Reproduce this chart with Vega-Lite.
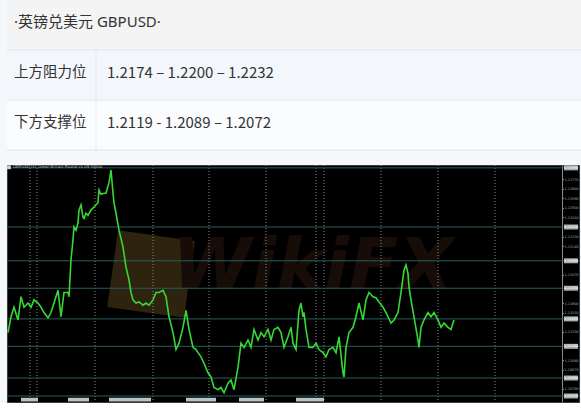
{
  "$schema": "https://vega.github.io/schema/vega-lite/v6.json",
  "background": "#f5f8fa",
  "padding": 0,
  "spacing": 13,
  "config": {"view": {"stroke": null}, "font": "Noto Sans CJK SC"},
  "vconcat": [
    {
      "width": 581,
      "height": 150,
      "data": {"values": [
        {"row": "title", "label": "·英镑兑美元 GBPUSD·", "value": ""},
        {"row": "resist", "label": "上方阻力位", "value": "1.2174 – 1.2200 – 1.2232"},
        {"row": "support", "label": "下方支撑位", "value": "1.2119 - 1.2089 – 1.2072"}
      ]},
      "layer": [
        {
          "mark": {"type": "rect"},
          "encoding": {
            "y": {"field": "row", "type": "nominal", "scale": {"domain": ["title", "resist", "support"], "paddingInner": 0, "paddingOuter": 0}, "axis": null},
            "color": {"field": "row", "type": "nominal", "scale": {"domain": ["title", "resist", "support"], "range": ["#f4f4f4", "#f3f7fc", "#fbfcfe"]}, "legend": null}
          }
        },
        {
          "mark": {"type": "rule", "color": "#e1e3e6", "strokeWidth": 1},
          "encoding": {
            "y": {"field": "row", "type": "nominal", "bandPosition": 1, "axis": null}
          }
        },
        {
          "transform": [{"filter": "datum.row !== 'title'"}],
          "mark": {"type": "tick", "orient": "vertical", "size": 50, "thickness": 1, "color": "#e1e3e6"},
          "encoding": {
            "x": {"datum": "value", "type": "nominal", "bandPosition": 0, "scale": {"domain": ["label", "value"], "range": [0, 178], "paddingInner": 0, "paddingOuter": 0}, "axis": null},
            "y": {"field": "row", "type": "nominal", "axis": null}
          }
        },
        {
          "transform": [{"filter": "datum.row === 'title'"}],
          "mark": {"type": "text", "align": "left", "baseline": "middle", "dx": 7, "dy": -3, "fontSize": 15, "font": "Noto Sans, Noto Sans CJK SC", "color": "#333333"},
          "encoding": {
            "x": {"datum": "label", "type": "nominal", "bandPosition": 0, "axis": null},
            "y": {"field": "row", "type": "nominal", "axis": null},
            "text": {"field": "label"}
          }
        },
        {
          "transform": [{"filter": "datum.row !== 'title'"}],
          "mark": {"type": "text", "align": "left", "baseline": "middle", "dx": 7, "dy": -2, "fontSize": 14.5, "color": "#333333"},
          "encoding": {
            "x": {"datum": "label", "type": "nominal", "bandPosition": 0, "axis": null},
            "y": {"field": "row", "type": "nominal", "axis": null},
            "text": {"field": "label"}
          }
        },
        {
          "transform": [{"filter": "datum.row !== 'title'"}],
          "mark": {"type": "text", "align": "left", "baseline": "middle", "dx": 11, "dy": -2, "fontSize": 15, "color": "#333333"},
          "encoding": {
            "x": {"datum": "value", "type": "nominal", "bandPosition": 0, "axis": null},
            "y": {"field": "row", "type": "nominal", "axis": null},
            "text": {"field": "value"}
          }
        }
      ]
    },
    {
      "width": 572,
      "height": 237,
      "view": {"fill": "#000000", "stroke": "#3c3c3c"},
      "resolve": {"axis": {"y": "independent"}},
      "layer": [
        {
          "data": {"values": [{"t": 144, "p": 1.21875}]},
          "mark": {"type": "point", "shape": "square", "size": 6000, "filled": true, "color": "#2e230e", "opacity": 1, "angle": 8},
          "encoding": {
            "x": {"field": "t", "type": "quantitative", "scale": {"domain": [0, 572], "nice": false, "zero": false}, "axis": null},
            "y": {"field": "p", "type": "quantitative", "scale": {"domain": [1.20663, 1.22907], "nice": false, "zero": false}, "axis": {"orient": "left", "labels": false, "ticks": false, "domain": false, "grid": false, "title": null, "minExtent": 6, "maxExtent": 6}}
          }
        },
        {
          "data": {"values": [{"t": 306, "p": 1.2194, "w": "WikiFX"}]},
          "mark": {"type": "text", "fontSize": 72, "fontWeight": "bold", "fontStyle": "italic", "font": "DejaVu Sans", "color": "#170c08", "baseline": "middle", "align": "center"},
          "encoding": {
            "x": {"field": "t", "type": "quantitative", "axis": null},
            "y": {"field": "p", "type": "quantitative", "axis": null},
            "text": {"field": "w"}
          }
        },
        {
          "data": {"values": [{"t": 23}, {"t": 30}, {"t": 88}, {"t": 146}, {"t": 202}, {"t": 259}, {"t": 309}, {"t": 317}, {"t": 374}, {"t": 431}, {"t": 488}]},
          "mark": {"type": "rule", "color": "#8a8a8a", "strokeDash": [1, 2], "strokeWidth": 1},
          "encoding": {
            "x": {"field": "t", "type": "quantitative", "axis": null}
          }
        },
        {
          "data": {"values": [
            {"level": 1.2288, "kind": "lvl"}, {"level": 1.2232, "kind": "lvl"}, {"level": 1.2200, "kind": "lvl"}, {"level": 1.2174, "kind": "lvl"},
            {"level": 1.2145, "kind": "cur"}, {"level": 1.2119, "kind": "lvl"}, {"level": 1.2089, "kind": "lvl"}, {"level": 1.2072, "kind": "lvl"}
          ]},
          "layer": [
            {
              "mark": {"type": "rule", "color": "#275e5e", "strokeWidth": 1},
              "encoding": {
                "y": {"field": "level", "type": "quantitative", "axis": null}
              }
            },
            {
              "mark": {"type": "tick", "orient": "horizontal", "size": 14, "thickness": 5},
              "encoding": {
                "x": {"datum": 564, "type": "quantitative", "axis": null},
                "y": {"field": "level", "type": "quantitative", "axis": null},
                "color": {"field": "kind", "type": "nominal", "scale": {"domain": ["lvl", "cur"], "range": ["#1f8d7c", "#8a9696"]}, "legend": null}
              }
            },
            {
              "mark": {"type": "text", "fontSize": 3.4, "color": "#ffffff", "font": "DejaVu Sans", "align": "center", "baseline": "middle"},
              "encoding": {
                "x": {"datum": 564, "type": "quantitative", "axis": null},
                "y": {"field": "level", "type": "quantitative", "axis": null},
                "text": {"field": "level", "format": ".5f"}
              }
            }
          ]
        },
        {
          "data": {"values": [
            {"t": 1, "p": 1.2132}, {"t": 4, "p": 1.2147}, {"t": 7, "p": 1.2156}, {"t": 11, "p": 1.2144}, {"t": 14, "p": 1.2166}, {"t": 17, "p": 1.2156}, {"t": 21, "p": 1.2160}, {"t": 24, "p": 1.2156}, {"t": 27, "p": 1.2163}, {"t": 31, "p": 1.2160},
            {"t": 34, "p": 1.2156}, {"t": 37, "p": 1.2151}, {"t": 41, "p": 1.2146}, {"t": 44, "p": 1.2151}, {"t": 47, "p": 1.2160}, {"t": 51, "p": 1.2172}, {"t": 54, "p": 1.2147}, {"t": 57, "p": 1.2170}, {"t": 61, "p": 1.2170}, {"t": 62, "p": 1.2166},
            {"t": 64, "p": 1.2201}, {"t": 66, "p": 1.2220}, {"t": 67, "p": 1.2232}, {"t": 69, "p": 1.2229}, {"t": 71, "p": 1.2236}, {"t": 72, "p": 1.2248}, {"t": 74, "p": 1.2253}, {"t": 76, "p": 1.2241}, {"t": 77, "p": 1.2240}, {"t": 79, "p": 1.2245},
            {"t": 81, "p": 1.2243}, {"t": 84, "p": 1.2248}, {"t": 87, "p": 1.2251}, {"t": 91, "p": 1.2255}, {"t": 92, "p": 1.2267}, {"t": 94, "p": 1.2263}, {"t": 97, "p": 1.2264}, {"t": 99, "p": 1.2264}, {"t": 102, "p": 1.2274}, {"t": 104, "p": 1.2286},
            {"t": 106, "p": 1.2264}, {"t": 107, "p": 1.2255}, {"t": 109, "p": 1.2245}, {"t": 112, "p": 1.2229}, {"t": 116, "p": 1.2213}, {"t": 119, "p": 1.2194}, {"t": 122, "p": 1.2182}, {"t": 124, "p": 1.2170}, {"t": 126, "p": 1.2163}, {"t": 129, "p": 1.2160},
            {"t": 132, "p": 1.2161}, {"t": 136, "p": 1.2158}, {"t": 139, "p": 1.2160}, {"t": 142, "p": 1.2158}, {"t": 146, "p": 1.2163}, {"t": 149, "p": 1.2170}, {"t": 152, "p": 1.2170}, {"t": 156, "p": 1.2172}, {"t": 159, "p": 1.2166}, {"t": 162, "p": 1.2147},
            {"t": 166, "p": 1.2132}, {"t": 169, "p": 1.2116}, {"t": 172, "p": 1.2122}, {"t": 176, "p": 1.2137}, {"t": 179, "p": 1.2153}, {"t": 182, "p": 1.2135}, {"t": 186, "p": 1.2118}, {"t": 189, "p": 1.2116}, {"t": 191, "p": 1.2113}, {"t": 194, "p": 1.2109},
            {"t": 197, "p": 1.2103}, {"t": 201, "p": 1.2094}, {"t": 204, "p": 1.2090}, {"t": 207, "p": 1.2080}, {"t": 211, "p": 1.2078}, {"t": 214, "p": 1.2080}, {"t": 217, "p": 1.2075}, {"t": 221, "p": 1.2084}, {"t": 224, "p": 1.2087}, {"t": 227, "p": 1.2078},
            {"t": 231, "p": 1.2099}, {"t": 234, "p": 1.2122}, {"t": 237, "p": 1.2118}, {"t": 241, "p": 1.2125}, {"t": 244, "p": 1.2118}, {"t": 247, "p": 1.2135}, {"t": 251, "p": 1.2125}, {"t": 254, "p": 1.2132}, {"t": 257, "p": 1.2128}, {"t": 261, "p": 1.2135},
            {"t": 264, "p": 1.2125}, {"t": 267, "p": 1.2135}, {"t": 271, "p": 1.2137}, {"t": 274, "p": 1.2132}, {"t": 277, "p": 1.2118}, {"t": 281, "p": 1.2128}, {"t": 284, "p": 1.2137}, {"t": 286, "p": 1.2122}, {"t": 289, "p": 1.2116}, {"t": 292, "p": 1.2153},
            {"t": 294, "p": 1.2160}, {"t": 296, "p": 1.2147}, {"t": 297, "p": 1.2151}, {"t": 299, "p": 1.2135}, {"t": 302, "p": 1.2118}, {"t": 306, "p": 1.2118}, {"t": 309, "p": 1.2122}, {"t": 312, "p": 1.2116}, {"t": 316, "p": 1.2113}, {"t": 319, "p": 1.2109},
            {"t": 322, "p": 1.2116}, {"t": 326, "p": 1.2118}, {"t": 329, "p": 1.2113}, {"t": 332, "p": 1.2128}, {"t": 336, "p": 1.2094}, {"t": 337, "p": 1.2090}, {"t": 339, "p": 1.2118}, {"t": 342, "p": 1.2132}, {"t": 346, "p": 1.2137}, {"t": 349, "p": 1.2147},
            {"t": 352, "p": 1.2160}, {"t": 356, "p": 1.2144}, {"t": 359, "p": 1.2163}, {"t": 362, "p": 1.2170}, {"t": 366, "p": 1.2166}, {"t": 369, "p": 1.2165}, {"t": 372, "p": 1.2161}, {"t": 376, "p": 1.2156}, {"t": 379, "p": 1.2151}, {"t": 381, "p": 1.2147},
            {"t": 384, "p": 1.2141}, {"t": 387, "p": 1.2144}, {"t": 391, "p": 1.2151}, {"t": 394, "p": 1.2170}, {"t": 397, "p": 1.2191}, {"t": 399, "p": 1.2196}, {"t": 401, "p": 1.2188}, {"t": 402, "p": 1.2175}, {"t": 404, "p": 1.2163}, {"t": 407, "p": 1.2147},
            {"t": 411, "p": 1.2125}, {"t": 412, "p": 1.2118}, {"t": 414, "p": 1.2137}, {"t": 417, "p": 1.2144}, {"t": 421, "p": 1.2151}, {"t": 424, "p": 1.2147}, {"t": 427, "p": 1.2151}, {"t": 431, "p": 1.2144}, {"t": 434, "p": 1.2137}, {"t": 437, "p": 1.2141},
            {"t": 441, "p": 1.2137}, {"t": 444, "p": 1.2135}, {"t": 447, "p": 1.2144}
          ]},
          "mark": {"type": "line", "color": "#35d835", "strokeWidth": 1.6},
          "encoding": {
            "x": {"field": "t", "type": "quantitative", "axis": null},
            "y": {"field": "p", "type": "quantitative", "axis": {"orient": "right", "offset": -17, "title": null, "grid": false, "values": [1.2079, 1.2097, 1.2106, 1.2133, 1.2151, 1.216, 1.2187, 1.2214, 1.2223, 1.2241, 1.225, 1.2259, 1.2268, 1.2277], "format": ".5f", "labelFont": "DejaVu Sans", "labelFontSize": 3.4, "labelColor": "#a8a8a8", "labelPadding": 0.5, "tickSize": 1.5, "tickColor": "#8a8a8a", "domainColor": "#8a8a8a", "labelOverlap": false, "labelFlush": false}}
          }
        },
        {
          "data": {"values": [{"a": 14, "b": 31}, {"a": 61, "b": 82}, {"a": 102, "b": 144}, {"a": 179, "b": 209}, {"a": 232, "b": 257}, {"a": 289, "b": 317}]},
          "mark": {"type": "rect", "color": "#b9c4c4"},
          "encoding": {
            "x": {"field": "a", "type": "quantitative", "axis": null},
            "x2": {"field": "b"},
            "y": {"datum": 1.20668, "type": "quantitative", "axis": null},
            "y2": {"datum": 1.20703}
          }
        },
        {
          "data": {"values": [{"t": 2, "p": 1.22885}]},
          "mark": {"type": "point", "shape": "square", "size": 14, "filled": true, "color": "#d0d0dc", "opacity": 1},
          "encoding": {
            "x": {"field": "t", "type": "quantitative", "axis": null},
            "y": {"field": "p", "type": "quantitative", "axis": null}
          }
        },
        {
          "data": {"values": [{"t": 6, "p": 1.22885, "s": "GBPUSD,H1  Great Britain Pound vs US Dollar"}]},
          "mark": {"type": "text", "fontSize": 4, "font": "DejaVu Sans", "color": "#b8b8b8", "align": "left", "baseline": "middle"},
          "encoding": {
            "x": {"field": "t", "type": "quantitative", "axis": null},
            "y": {"field": "p", "type": "quantitative", "axis": null},
            "text": {"field": "s"}
          }
        }
      ]
    }
  ]
}
